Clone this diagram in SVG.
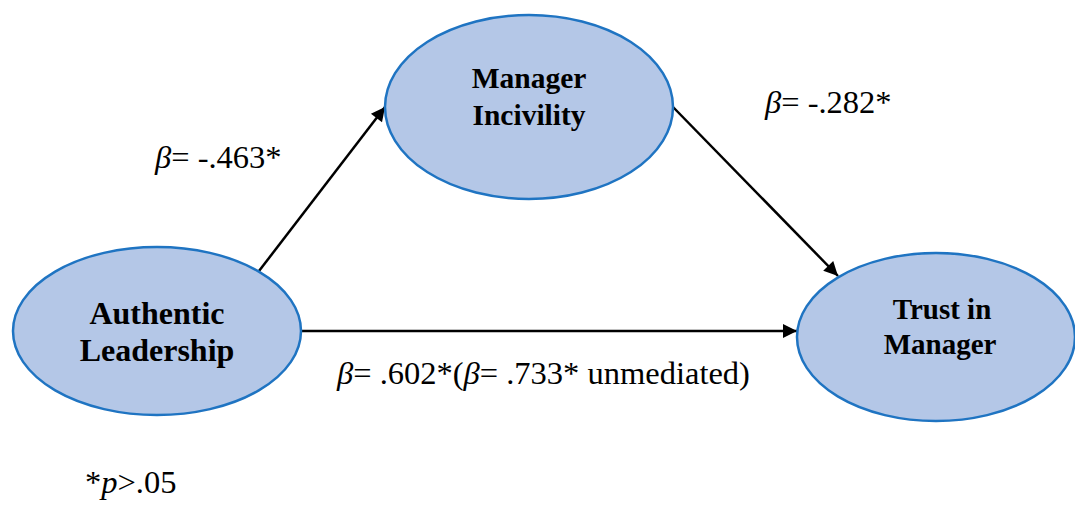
<svg xmlns="http://www.w3.org/2000/svg" width="1075" height="508" viewBox="0 0 1075 508">
<style>
.node ellipse{fill:#B4C7E7;stroke:#1F74C2;stroke-width:2.5}
.nt{font-family:'Liberation Serif','Times New Roman','DejaVu Serif',serif;font-weight:bold;fill:#000;text-anchor:middle}
.lbl{font-family:'Liberation Serif','Times New Roman','DejaVu Serif',serif;font-size:32.5px;fill:#000}
.conn line{stroke:#000;stroke-width:2.5}
</style>
<defs>
<marker id="ah" viewBox="0 0 10 10" refX="10" refY="5" markerWidth="17" markerHeight="14" markerUnits="userSpaceOnUse" orient="auto">
<path d="M0,0 L10,5 L0,10 Z" fill="#000"/>
</marker>
</defs>
<g id="connectors" class="conn">
<line x1="259" y1="271" x2="385" y2="107" marker-end="url(#ah)"/>
<line x1="673" y1="107" x2="838" y2="276" marker-end="url(#ah)"/>
<line x1="302" y1="331" x2="797" y2="331" marker-end="url(#ah)"/>
</g>
<g id="manager-incivility" class="node">
<ellipse cx="529" cy="107" rx="144" ry="92"/>
<text class="nt" x="529" y="88" font-size="29.5">Manager</text>
<text class="nt" x="529" y="125" font-size="29.5">Incivility</text>
</g>
<g id="authentic-leadership" class="node">
<ellipse cx="157" cy="331" rx="144" ry="84"/>
<text class="nt" x="157" y="324" font-size="32">Authentic</text>
<text class="nt" x="157" y="361" font-size="32">Leadership</text>
</g>
<g id="trust-in-manager" class="node">
<ellipse cx="936" cy="337" rx="139" ry="84"/>
<text class="nt" x="942" y="319" font-size="29">Trust in</text>
<text class="nt" x="940" y="354" font-size="29">Manager</text>
</g>
<g id="labels">
<text class="lbl" x="155" y="168"><tspan font-style="italic">β</tspan>= -.463*</text>
<text class="lbl" x="765" y="113"><tspan font-style="italic">β</tspan>= -.282*</text>
<text class="lbl" x="337" y="384"><tspan font-style="italic">β</tspan>= .602*(<tspan font-style="italic">β</tspan>= .733* unmediated)</text>
<text class="lbl" x="85" y="493">*<tspan font-style="italic">p</tspan>&gt;.05</text>
</g>
</svg>
